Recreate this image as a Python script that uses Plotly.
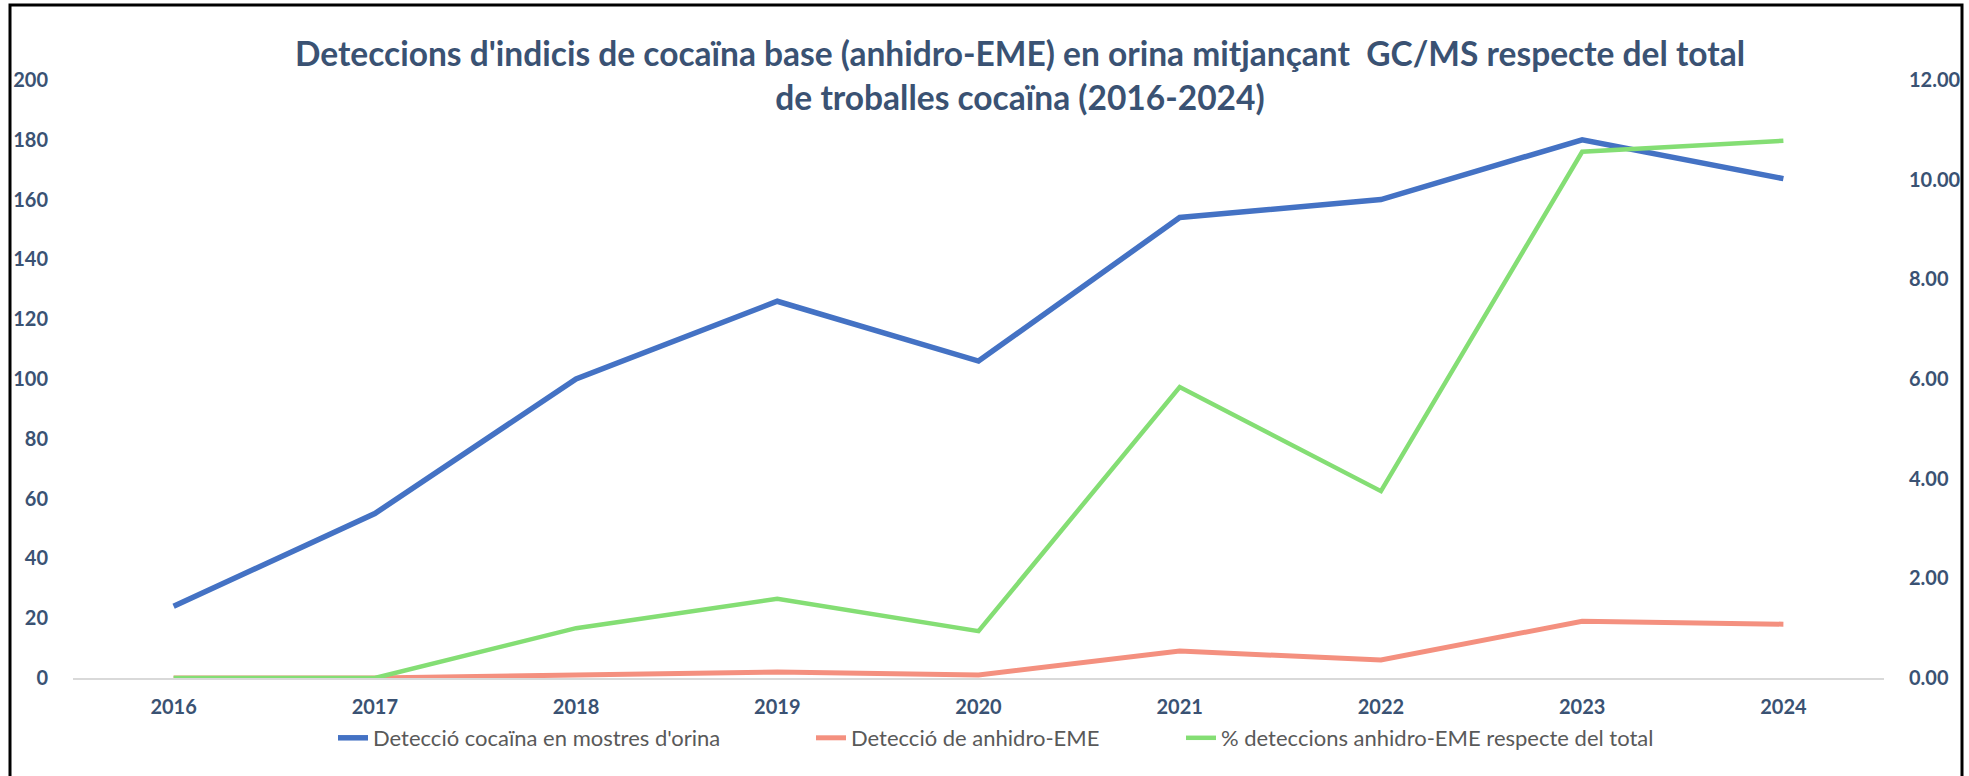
import plotly.graph_objects as go

years = ["2016", "2017", "2018", "2019", "2020", "2021", "2022", "2023", "2024"]
cocaina_orina = [24, 55, 100, 126, 106, 154, 160, 180, 167]
anhidro_eme = [0, 0, 1, 2, 1, 9, 6, 19, 18]
pct_anhidro = [0.00, 0.00, 1.00, 1.59, 0.94, 5.84, 3.75, 10.56, 10.78]

name_blue = "Detecció cocaïna en mostres d'orina"
name_red = "Detecció de anhidro-EME"
name_green = "% deteccions anhidro-EME respecte del total"
title_text = ("Deteccions d'indicis de cocaïna base (anhidro-EME) en orina mitjançant  GC/MS respecte del total"
              "<br>de troballes cocaïna (2016-2024)")

W, H = 1969, 776
L, R, T, B = 73, 85, 80, 98
pw, ph = W - L - R, H - T - B

def px_x(px):
    return (px - L) / pw

def px_y(py):
    return (H - B - py) / ph

dark = "#3a5273"
legend_font = dict(family="Lato", size=22, color="#595959")

fig = go.Figure()
fig.add_trace(go.Scatter(x=years, y=cocaina_orina, name=name_blue, mode="lines",
                         line=dict(color="#4472C4", width=5.5), legend="legend", showlegend=True))
fig.add_trace(go.Scatter(x=years, y=anhidro_eme, name=name_red, mode="lines",
                         line=dict(color="#F4907F", width=5), legend="legend2", showlegend=True))
fig.add_trace(go.Scatter(x=years, y=pct_anhidro, name=name_green, mode="lines",
                         line=dict(color="#84DE74", width=4.5), yaxis="y2", legend="legend3",
                         showlegend=True))

def leg(px_left):
    return dict(orientation="h", x=px_x(px_left), xanchor="left", y=px_y(738), yanchor="middle",
                font=legend_font, bgcolor="rgba(0,0,0,0)")

fig.update_layout(
    width=W, height=H,
    showlegend=True,
    margin=dict(l=L, r=R, t=T, b=B, autoexpand=False),
    paper_bgcolor="white", plot_bgcolor="white",
    title=dict(text=title_text, x=1020 / W, xanchor="center", xref="container",
               y=1 - 66 / H, yanchor="top", yref="container",
               font=dict(family="Lato", size=33.5, color=dark, weight="bold")),
    xaxis=dict(type="category", range=[-0.5, 8.5], showgrid=False, zeroline=False,
               showline=True, linecolor="#D9D9D9", linewidth=2, ticks="", automargin=False,
               tickfont=dict(family="Lato", size=20, color=dark, weight="bold"),
               ticklabelstandoff=10),
    yaxis=dict(range=[0, 200], dtick=20, showgrid=False, zeroline=False, showline=False,
               automargin=False,
               tickfont=dict(family="Lato", size=20, color=dark, weight="bold"),
               ticklabelstandoff=24),
    yaxis2=dict(range=[0, 12], dtick=2, overlaying="y", side="right", showgrid=False,
                zeroline=False, showline=False, tickformat=".2f", automargin=False,
                tickfont=dict(family="Lato", size=20, color=dark, weight="bold"),
                ticklabelstandoff=24),
    legend=leg(333),
    legend2=leg(811),
    legend3=leg(1181),
    shapes=[dict(type="rect", xref="paper", yref="paper",
                 x0=px_x(10), x1=px_x(1962), y0=px_y(820), y1=px_y(5),
                 line=dict(color="black", width=3), fillcolor="rgba(0,0,0,0)", layer="above")],
)

fig.write_html("out.html", config={"displayModeBar": False},
               post_script="document.body.style.margin='0';")
